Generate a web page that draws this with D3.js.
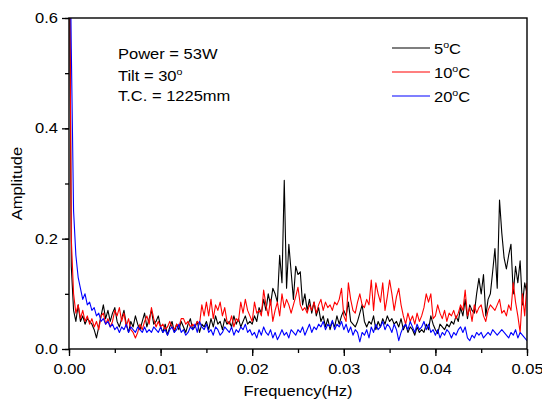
<!DOCTYPE html>
<html>
<head>
<meta charset="utf-8">
<script src="https://cdn.jsdelivr.net/npm/d3@7"></script>
<style>
  body { margin: 0; background: #fff; }
  svg text { font-family: "Liberation Sans", Arial, sans-serif; fill: #000; }
</style>
</head>
<body>
<svg id="chart" width="542" height="407"></svg>
<script>
// frequency step between samples (Hz)
const step = 0.00025;

const amp5 = [
  0.95, 0.15, 0.07, 0.05, 0.08, 0.05, 0.06, 0.045, 0.055, 0.05,
  0.045, 0.035, 0.02, 0.04, 0.06, 0.08, 0.055, 0.07, 0.05, 0.065,
  0.075, 0.05, 0.04, 0.055, 0.07, 0.045, 0.03, 0.05, 0.04, 0.06,
  0.045, 0.035, 0.05, 0.065, 0.04, 0.055, 0.07, 0.045, 0.05, 0.06,
  0.04, 0.03, 0.045, 0.025, 0.04, 0.05, 0.03, 0.045, 0.035, 0.05,
  0.04, 0.03, 0.045, 0.055, 0.035, 0.04, 0.05, 0.03, 0.045, 0.04,
  0.05, 0.035, 0.055, 0.04, 0.06, 0.045, 0.05, 0.035, 0.055, 0.045,
  0.05, 0.04, 0.06, 0.045, 0.055, 0.04, 0.05, 0.06, 0.045, 0.05,
  0.045, 0.06, 0.05, 0.075, 0.065, 0.09, 0.07, 0.1, 0.08, 0.11,
  0.1, 0.085, 0.17, 0.12, 0.306, 0.11, 0.19, 0.14, 0.09, 0.15,
  0.135, 0.14, 0.08, 0.1, 0.07, 0.09, 0.065, 0.085, 0.06, 0.075,
  0.05, 0.06, 0.04, 0.055, 0.035, 0.05, 0.04, 0.06, 0.045, 0.06,
  0.07, 0.06, 0.085, 0.05, 0.045, 0.04, 0.05, 0.065, 0.08, 0.05,
  0.04, 0.05, 0.045, 0.06, 0.035, 0.05, 0.04, 0.055, 0.045, 0.06,
  0.05, 0.055, 0.045, 0.05, 0.04, 0.055, 0.035, 0.045, 0.03, 0.04,
  0.035, 0.025, 0.04, 0.03, 0.035, 0.03, 0.045, 0.035, 0.06, 0.045,
  0.035, 0.028, 0.045, 0.04, 0.035, 0.045, 0.04, 0.05, 0.045, 0.06,
  0.05, 0.075, 0.06, 0.09, 0.055, 0.08, 0.07, 0.065, 0.1, 0.128,
  0.1, 0.135, 0.06, 0.09, 0.1, 0.14, 0.182, 0.11, 0.27, 0.21,
  0.165, 0.145, 0.17, 0.19, 0.1, 0.15, 0.12, 0.16, 0.08, 0.12, 0.1
];

const amp10 = [
  0.9, 0.2, 0.1, 0.065, 0.08, 0.055, 0.07, 0.05, 0.06, 0.045,
  0.055, 0.04, 0.05, 0.035, 0.06, 0.065, 0.045, 0.055, 0.04, 0.05,
  0.07, 0.06, 0.075, 0.05, 0.065, 0.04, 0.055, 0.035, 0.03, 0.02,
  0.03, 0.045, 0.035, 0.05, 0.06, 0.045, 0.075, 0.055, 0.04, 0.05,
  0.04, 0.045, 0.035, 0.04, 0.05, 0.04, 0.035, 0.045, 0.04, 0.055,
  0.055, 0.045, 0.05, 0.04, 0.045, 0.04, 0.05, 0.045, 0.08, 0.06,
  0.085, 0.06, 0.09, 0.055, 0.08, 0.07, 0.085, 0.06, 0.075, 0.05,
  0.045, 0.06, 0.04, 0.055, 0.05, 0.085, 0.065, 0.09, 0.07, 0.06,
  0.05, 0.085, 0.065, 0.07, 0.06, 0.107, 0.08, 0.06, 0.09, 0.05,
  0.07, 0.085, 0.06, 0.1, 0.075, 0.09, 0.08, 0.065, 0.08, 0.095,
  0.112, 0.08, 0.07, 0.075, 0.065, 0.08, 0.07, 0.085, 0.065, 0.08,
  0.09, 0.07, 0.085, 0.075, 0.08, 0.07, 0.085, 0.08, 0.09, 0.11,
  0.06, 0.05, 0.12, 0.09, 0.07, 0.065, 0.085, 0.1, 0.08, 0.075,
  0.09, 0.08, 0.125, 0.07, 0.12, 0.1, 0.085, 0.12, 0.07, 0.095,
  0.125, 0.1, 0.07, 0.095, 0.11, 0.08, 0.06, 0.045, 0.065, 0.05,
  0.06, 0.045, 0.065, 0.05, 0.06, 0.075, 0.1, 0.085, 0.1, 0.055,
  0.06, 0.08, 0.065, 0.055, 0.07, 0.05, 0.065, 0.06, 0.07, 0.055,
  0.065, 0.08, 0.07, 0.107, 0.06, 0.075, 0.05, 0.08, 0.065, 0.075,
  0.08, 0.06, 0.05, 0.07, 0.08, 0.075, 0.07, 0.08, 0.09, 0.065,
  0.07, 0.06, 0.08, 0.07, 0.12, 0.085, 0.06, 0.03, 0.1, 0.06, 0.12
];

const amp20 = [
  0.9, 0.545, 0.25, 0.17, 0.13, 0.11, 0.09, 0.1, 0.08, 0.085,
  0.07, 0.075, 0.06, 0.065, 0.05, 0.055, 0.045, 0.05, 0.04, 0.045,
  0.035, 0.04, 0.03, 0.04, 0.035, 0.045, 0.03, 0.04, 0.035, 0.03,
  0.04, 0.035, 0.03, 0.04, 0.03, 0.035, 0.03, 0.04, 0.035, 0.03,
  0.04, 0.03, 0.035, 0.025, 0.035, 0.04, 0.03, 0.035, 0.045, 0.03,
  0.035, 0.025, 0.03, 0.04, 0.035, 0.045, 0.03, 0.05, 0.04, 0.035,
  0.045, 0.03, 0.035, 0.025, 0.04, 0.035, 0.025, 0.03, 0.04, 0.035,
  0.03, 0.04, 0.025, 0.035, 0.03, 0.04, 0.035, 0.045, 0.03, 0.035,
  0.025, 0.03, 0.02, 0.035, 0.025, 0.04, 0.03, 0.025, 0.035, 0.02,
  0.03, 0.017, 0.025, 0.035, 0.025, 0.03, 0.02, 0.035, 0.03, 0.025,
  0.035, 0.03, 0.04, 0.025, 0.035, 0.045, 0.03, 0.04, 0.035, 0.045,
  0.04, 0.05, 0.035, 0.045, 0.04, 0.052, 0.035, 0.045, 0.04, 0.05,
  0.035, 0.045, 0.03, 0.04, 0.025, 0.035, 0.03, 0.013, 0.03, 0.025,
  0.035, 0.02, 0.04, 0.03, 0.045, 0.035, 0.04, 0.05, 0.035, 0.045,
  0.04, 0.03, 0.045, 0.035, 0.015, 0.03, 0.04, 0.045, 0.035, 0.05,
  0.04, 0.03, 0.045, 0.035, 0.04, 0.05, 0.035, 0.045, 0.03, 0.035,
  0.025, 0.035, 0.02, 0.03, 0.025, 0.035, 0.03, 0.02, 0.03, 0.025,
  0.035, 0.04, 0.03, 0.04, 0.02, 0.015, 0.025, 0.02, 0.03, 0.025,
  0.03, 0.02, 0.025, 0.03, 0.025, 0.035, 0.03, 0.025, 0.03, 0.035,
  0.03, 0.025, 0.02, 0.03, 0.025, 0.035, 0.02, 0.03, 0.025, 0.02, 0.015
];

const seriesNames = ["5", "10", "20"];
const seriesColors = ["#000000", "#ff0000", "#0000ff"];
const xTicks = [0, 0.01, 0.02, 0.03, 0.04, 0.05];
const yTicks = [0, 0.2, 0.4, 0.6];
const infoLines = ["Power = 53W", "Tilt = 30", "T.C. = 1225mm"];

const svg = d3.select("#chart");
const plotLeft = 69, plotRight = 527, plotTop = 18, plotBottom = 349;
const FS = 14;        // font size
const STRETCH = 1.18; // the source font is drawn a bit wide

const x = d3.scaleLinear().domain([0, 0.05]).range([plotLeft, plotRight]);
const y = d3.scaleLinear().domain([0, 0.6]).range([plotBottom, plotTop]);

// widen text horizontally around its own anchor point
function stretch(sel) {
  sel.each(function () {
    const t = d3.select(this);
    const tx = +t.attr("x") || 0, ty = +t.attr("y") || 0;
    t.attr("transform", `translate(${tx},${ty}) scale(${STRETCH},1) translate(${-tx},${-ty})`);
  });
}

svg.append("defs").append("clipPath").attr("id", "plot-clip")
  .append("rect")
  .attr("x", plotLeft).attr("y", plotTop)
  .attr("width", plotRight - plotLeft).attr("height", plotBottom - plotTop);

// ------------------------------------------------------------------
// series lines
// ------------------------------------------------------------------
const line = d3.line()
  .x((d, i) => x(i * step))
  .y(d => y(d));

const lines = svg.append("g").attr("clip-path", "url(#plot-clip)");
[amp5, amp10, amp20].forEach((arr, k) => {
  lines.append("path")
    .datum(arr)
    .attr("fill", "none")
    .attr("stroke", seriesColors[k])
    .attr("stroke-width", 1.1)
    .attr("stroke-linejoin", "round")
    .attr("d", line);
});

// ------------------------------------------------------------------
// axes
// ------------------------------------------------------------------
const xMinor = d3.range(0, 0.0501, 0.005);
const yMinor = d3.range(0, 0.601, 0.1);

svg.append("g")
  .attr("transform", `translate(0,${plotBottom})`)
  .call(d3.axisBottom(x).tickValues(xMinor).tickSize(4).tickFormat(""))
  .call(g => g.select(".domain").remove())
  .selectAll("line").attr("stroke-width", 1.3);

svg.append("g")
  .attr("transform", `translate(0,${plotBottom})`)
  .call(d3.axisBottom(x).tickValues(xTicks).tickSize(7).tickPadding(8)
    .tickFormat(d3.format(".2f")))
  .call(g => g.select(".domain").remove())
  .call(g => g.selectAll("line").attr("stroke-width", 1.3))
  .call(g => g.selectAll("text").attr("font-size", FS).attr("font-family", null).call(stretch));

svg.append("g")
  .attr("transform", `translate(${plotLeft},0)`)
  .call(d3.axisLeft(y).tickValues(yMinor).tickSize(4).tickFormat(""))
  .call(g => g.select(".domain").remove())
  .selectAll("line").attr("stroke-width", 1.3);

svg.append("g")
  .attr("transform", `translate(${plotLeft},0)`)
  .call(d3.axisLeft(y).tickValues(yTicks).tickSize(7).tickPadding(4)
    .tickFormat(d3.format(".1f")))
  .call(g => g.select(".domain").remove())
  .call(g => g.selectAll("line").attr("stroke-width", 1.3))
  .call(g => g.selectAll("text").attr("font-size", FS).attr("font-family", null).call(stretch));

// frame
svg.append("rect")
  .attr("x", plotLeft).attr("y", plotTop)
  .attr("width", plotRight - plotLeft).attr("height", plotBottom - plotTop)
  .attr("fill", "none")
  .attr("stroke", "#000")
  .attr("stroke-width", 1.4);

// axis titles
svg.append("text")
  .attr("x", 298).attr("y", 396)
  .attr("text-anchor", "middle").attr("font-size", FS)
  .text("Frequency(Hz)")
  .call(stretch);

svg.append("g")
  .attr("transform", `translate(22,${(plotTop + plotBottom) / 2}) rotate(-90)`)
  .append("text")
  .attr("text-anchor", "middle").attr("font-size", FS)
  .text("Amplitude")
  .call(stretch);

// ------------------------------------------------------------------
// annotation block
// ------------------------------------------------------------------
const info = svg.append("g").attr("font-size", FS);
const infoY = [59, 81, 101];
infoLines.forEach((t, i) => {
  const txt = info.append("text")
    .attr("x", 118).attr("y", infoY[i])
    .text(t);
  if (i === 1) {
    txt.append("tspan").attr("font-size", 9).attr("dy", -6).text("o");
  }
  txt.call(stretch);
});

// legend
const legend = svg.append("g");
seriesNames.forEach((name, i) => {
  const ly = 48 + i * 24;
  legend.append("line")
    .attr("x1", 392).attr("x2", 430)
    .attr("y1", ly).attr("y2", ly)
    .attr("stroke", seriesColors[i]).attr("stroke-width", 1.1);
  const t = legend.append("text")
    .attr("x", 434).attr("y", ly + 6)
    .attr("font-size", FS)
    .text(name);
  t.append("tspan").attr("font-size", 9).attr("dy", -6).text("o");
  t.append("tspan").attr("dy", 6).text("C");
  t.call(stretch);
});
</script>
</body>
</html>
